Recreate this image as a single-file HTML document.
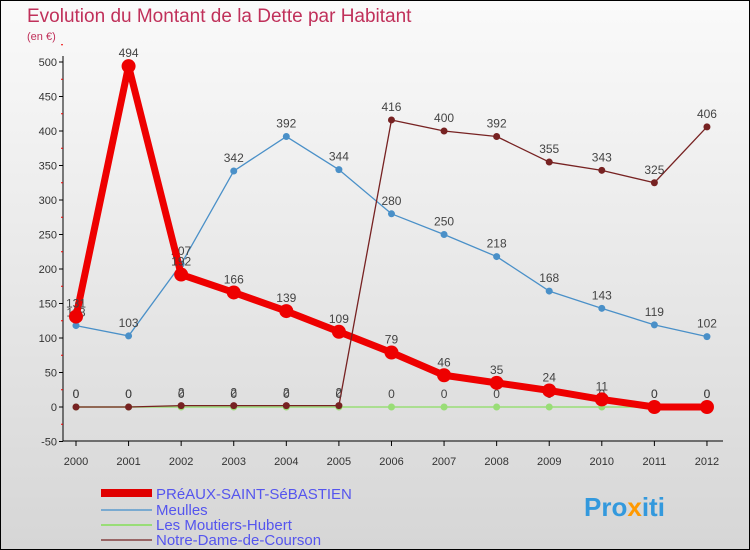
<!DOCTYPE html>
<html><head><meta charset="utf-8"><style>
body{margin:0}
#c{width:748px;height:548px;border:1px solid #000;background:linear-gradient(#fafafa,#d6d6d6);position:relative;font-family:"Liberation Sans",sans-serif;overflow:hidden}
</style></head><body>
<div id="c">
<svg id="s" width="748" height="548" style="position:absolute;left:0;top:0">
<text x="26" y="21" font-size="19" fill="#c0305a">Evolution du Montant de la Dette par Habitant</text>
<text x="26" y="39" font-size="11" fill="#c0305a">(en €)</text>
<g id="ax"></g><g id="ser"></g>
<g font-size="15" fill="#5555ee">
<rect x="100" y="488" width="51" height="8" fill="#e00000"/>
<text x="155" y="498">PRéAUX-SAINT-SéBASTIEN</text>
<rect x="100" y="508" width="51" height="2" fill="#7aaad0"/>
<text x="155" y="514">Meulles</text>
<rect x="100" y="523" width="51" height="2" fill="#99dd77"/>
<text x="155" y="529">Les Moutiers-Hubert</text>
<rect x="100" y="538" width="51" height="2" fill="#996666"/>
<text x="155" y="544">Notre-Dame-de-Courson</text>
</g>
<text x="583" y="515" font-size="26" font-weight="bold" fill="#3399dd">Pro<tspan fill="#ff9900">x</tspan>iti</text>
</svg></div>
<script>
const years=[2000,2001,2002,2003,2004,2005,2006,2007,2008,2009,2010,2011,2012];
const yTicks=[-50,0,50,100,150,200,250,300,350,400,450,500];
const preaux=[131,494,192,166,139,109,79,46,35,24,11,0,0];
const meulles=[118,103,207,342,392,344,280,250,218,168,143,119,102];
const moutiers=[0,0,0,0,0,0,0,0,0,0,0,0,0];
const notreDame=[0,0,2,2,2,2,416,400,392,355,343,325,406];
const NS="http://www.w3.org/2000/svg";
const X=i=>75+i*52.58, Y=v=>406-v*0.69;
function mk(t,a,p){const e=document.createElementNS(NS,t);for(const k in a)e.setAttribute(k,a[k]);p.appendChild(e);return e;}
const ax=document.getElementById('ax'), ser=document.getElementById('ser');
mk('line',{x1:62,y1:55,x2:62,y2:440,stroke:'#000'},ax);
mk('line',{x1:62,y1:440,x2:722,y2:440,stroke:'#000'},ax);
yTicks.forEach(v=>{
  mk('line',{x1:58,y1:Y(v),x2:62,y2:Y(v),stroke:'#000'},ax);
  mk('line',{x1:60,y1:Y(v+25),x2:62,y2:Y(v+25),stroke:'#e00'},ax);
  const t=mk('text',{x:56,y:Y(v)+4,'text-anchor':'end','font-size':11,fill:'#333'},ax);t.textContent=v;
  
  
});
years.forEach((y,i)=>{
  mk('line',{x1:X(i),y1:440,x2:X(i),y2:445,stroke:'#000'},ax);
  const t=mk('text',{x:X(i),y:464,'text-anchor':'middle','font-size':11,fill:'#333'},ax);t.textContent=y;
  
  
});
function series(d,col,w,r,name){
  const g=mk('g',{},ser);
  
  
  mk('polyline',{points:d.map((v,i)=>X(i)+','+Y(v)).join(' '),fill:'none',stroke:col,'stroke-width':w,'stroke-linejoin':'round'},g);
  d.forEach((v,i)=>{
    const c=mk('circle',{cx:X(i),cy:Y(v),r:r,fill:col},g);
    
    
    const t=mk('text',{x:X(i),y:Y(v)-9,'text-anchor':'middle','font-size':12,fill:'#444'},g);t.textContent=v;
  });
}
series(moutiers,'#99dd77',1.5,3.5,'series-moutiers');
series(meulles,'#4a90c8',1.3,3.5,'series-meulles');
series(preaux,'#ee0000',7,7,'series-preaux');
series(notreDame,'#772222',1.3,3.5,'series-notre-dame');
</script>
</body></html>
